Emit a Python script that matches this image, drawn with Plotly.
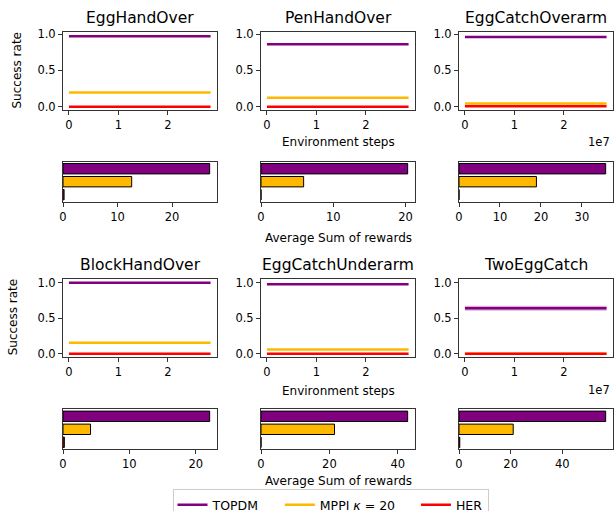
import plotly.graph_objects as go

# ---------------- data ----------------
tasks = ["EggHandOver", "PenHandOver", "EggCatchOverarm",
         "BlockHandOver", "EggCatchUnderarm", "TwoEggCatch"]
methods = ["TOPDM", "MPPI <i>κ</i> = 20", "HER"]
colors = ["#800080", "#FFB800", "#FF0000"]

env_steps = [0, 2.86e7]

success_topdm = [0.973, 0.86, 0.96, 0.995, 0.975, 0.64]
success_mppi = [0.195, 0.124, 0.045, 0.155, 0.06, 0.0]
success_her = [0.0, 0.0, 0.005, 0.0, 0.0, 0.0]
std_topdm = [0.006, 0.006, 0.006, 0.005, 0.006, 0.035]
std_mppi = [0.008, 0.008, 0.008, 0.008, 0.008, 0.0]
std_her = [0.003, 0.003, 0.005, 0.01, 0.003, 0.005]

reward_topdm = [26.9, 20.3, 35.8, 22.1, 42.9, 56.8]
reward_mppi = [12.6, 5.9, 18.9, 4.15, 21.5, 21.0]
reward_her = [0.2, 0.0, 0.0, 0.2, 0.0, 0.3]

x_tickvals = [0, 1e7, 2e7]
x_ticktext = ["0", "1", "2"]
y_tickvals = [0.0, 0.5, 1.0]
bar_dtick = [10, 10, 10, 10, 20, 20]

# ---------------- layout geometry (pixels) ----------------
W, H = 614, 511
cols = [(63, 217), (261, 415), (459, 613)]
line_rows = [(32, 110), (279.3, 357.3)]
bar_rows = [(161.7, 201.7), (409.3, 449.3)]
line_yrange = [[-0.045, 1.03], [-0.05, 1.045]]

FONT = "DejaVu Sans"
TXT = "#000000"
AX = "#333333"
LEGEND_PAD = "\u00a0" * 4  # matplotlib-like column spacing in the legend

def xdom(c):
    return [c[0] / W, c[1] / W]

def ydom(r):
    return [1 - r[1] / H, 1 - r[0] / H]

def hex_rgba(h, a):
    h = h.lstrip("#")
    return "rgba(%d,%d,%d,%.2f)" % (int(h[0:2], 16), int(h[2:4], 16), int(h[4:6], 16), a)

fig = go.Figure()
layout = dict(
    width=W, height=H,
    margin=dict(l=0, r=0, t=0, b=0, autoexpand=False),
    paper_bgcolor="white", plot_bgcolor="white",
    font=dict(family=FONT, size=11.5, color=TXT),
    showlegend=True,
)

succ = [success_topdm, success_mppi, success_her]
stds = [std_topdm, std_mppi, std_her]
rew = [reward_topdm, reward_mppi, reward_her]

annotations = []
axis_common = dict(showline=True, mirror=True, linecolor=AX, linewidth=1,
                   ticks="outside", ticklen=4, tickwidth=1, tickcolor=AX,
                   showgrid=False, zeroline=False, automargin=False,
                   tickfont=dict(family=FONT, size=11.5, color=TXT))

for i, task in enumerate(tasks):
    row, col = divmod(i, 3)
    n_line = 2 * i + 1
    n_bar = 2 * i + 2
    xa = "x" if n_line == 1 else "x%d" % n_line
    ya = "y" if n_line == 1 else "y%d" % n_line
    xb = "x%d" % n_bar
    yb = "y%d" % n_bar

    for m in range(3):
        mean = succ[m][i]
        sd = stds[m][i]
        fig.add_trace(go.Scatter(
            x=env_steps + env_steps[::-1],
            y=[mean + sd] * len(env_steps) + [mean - sd] * len(env_steps),
            fill="toself", fillcolor=hex_rgba(colors[m], 0.3),
            line=dict(width=0), mode="lines", hoverinfo="skip",
            showlegend=False, xaxis=xa, yaxis=ya))
        fig.add_trace(go.Scatter(
            x=env_steps, y=[mean] * len(env_steps), mode="lines",
            line=dict(color=colors[m], width=2.5),
            name=methods[m] + (LEGEND_PAD if m < len(methods) - 1 else ""),
            legendgroup=methods[m],
            showlegend=(i == 0), xaxis=xa, yaxis=ya))

    fig.add_trace(go.Bar(
        x=[rew[m][i] for m in range(3)],
        y=list(range(len(methods))),
        orientation="h", width=0.8,
        marker=dict(color=colors, line=dict(color="black", width=1)),
        showlegend=False, xaxis=xb, yaxis=yb))

    kx = "xaxis" if n_line == 1 else "xaxis%d" % n_line
    ky = "yaxis" if n_line == 1 else "yaxis%d" % n_line
    layout[kx] = dict(axis_common, domain=xdom(cols[col]), anchor=ya,
                      range=[-0.12e7, 2.99e7],
                      tickvals=x_tickvals, ticktext=x_ticktext)
    layout[ky] = dict(axis_common, domain=ydom(line_rows[row]), anchor=xa,
                      range=line_yrange[row], tickvals=y_tickvals,
                      tickformat=".1f")
    bmax = max(rew[m][i] for m in range(3))
    layout["xaxis%d" % n_bar] = dict(axis_common, domain=xdom(cols[col]), anchor=yb,
                                    range=[0, bmax * 1.05], dtick=bar_dtick[i], tick0=0)
    layout["yaxis%d" % n_bar] = dict(axis_common, domain=ydom(bar_rows[row]), anchor=xb,
                                    range=[2.54, -0.54], showticklabels=False, ticks="")

    annotations.append(dict(text=task, x=(cols[col][0] + cols[col][1]) / 2 / W,
                            y=1 - (line_rows[row][0] - 14.5) / H, xref="paper", yref="paper",
                            xanchor="center", yanchor="middle", showarrow=False,
                            font=dict(family=FONT, size=15.5, color=TXT)))

ylab_x = [16.5, 13]
env_y = [142, 391]
e7_y = [141.5, 390]
avg_y = [238, 481]
for r in range(2):
    cy = (line_rows[r][0] + line_rows[r][1]) / 2 - 1
    annotations.append(dict(text="Success rate", x=ylab_x[r] / W, y=1 - cy / H,
                            xref="paper", yref="paper", textangle=-90,
                            xanchor="center", yanchor="middle", showarrow=False,
                            font=dict(family=FONT, size=12, color=TXT)))
    annotations.append(dict(text="Environment steps", x=338 / W, y=1 - env_y[r] / H,
                            xref="paper", yref="paper", xanchor="center", yanchor="middle",
                            showarrow=False, font=dict(family=FONT, size=12, color=TXT)))
    annotations.append(dict(text="1e7", x=612 / W, y=1 - e7_y[r] / H,
                            xref="paper", yref="paper", xanchor="right", yanchor="middle",
                            showarrow=False, font=dict(family=FONT, size=11.5, color=TXT)))
    annotations.append(dict(text="Average Sum of rewards", x=338 / W, y=1 - avg_y[r] / H,
                            xref="paper", yref="paper", xanchor="center", yanchor="middle",
                            showarrow=False, font=dict(family=FONT, size=12, color=TXT)))

layout["annotations"] = annotations
layout["legend"] = dict(orientation="h", x=330.5 / W, xanchor="center",
                        y=1 - 489 / H, yanchor="top",
                        bordercolor="#cccccc", borderwidth=1, bgcolor="white",
                        font=dict(family=FONT, size=12.5, color=TXT),
                        itemwidth=30)
fig.update_layout(**layout)
fig.write_html("out.html", config={"displayModeBar": False},
               post_script="document.body.style.margin='0';document.body.style.overflow='hidden';")
